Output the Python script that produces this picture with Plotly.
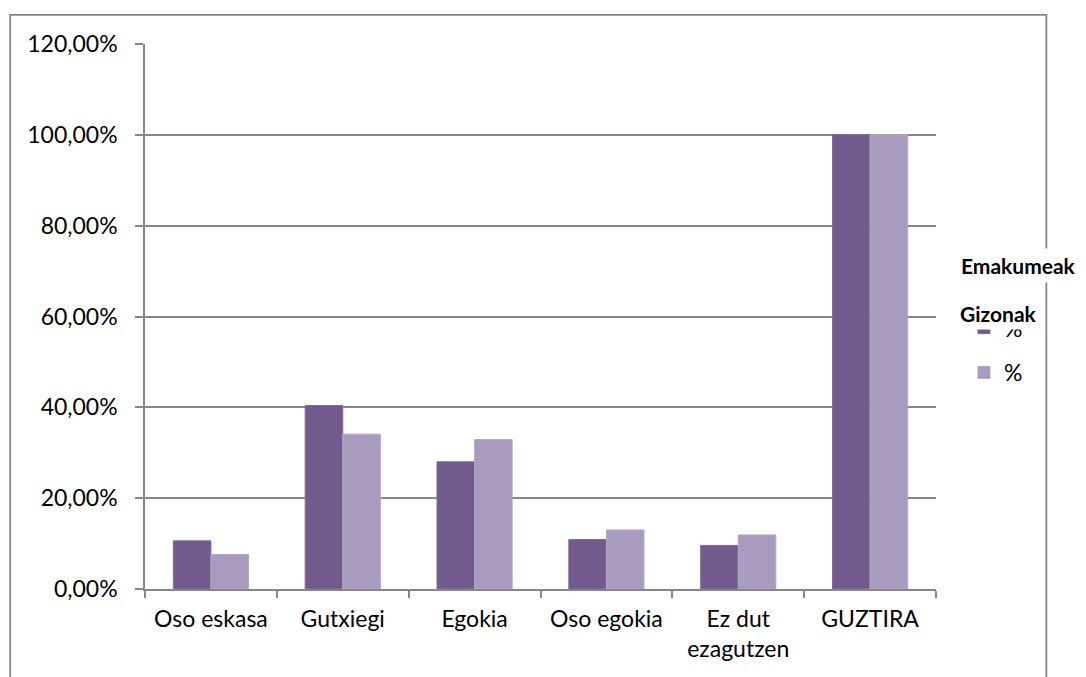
import plotly.graph_objects as go

categories = ["Oso eskasa", "Gutxiegi", "Egokia", "Oso egokia", "Ez dut<br>ezagutzen", "GUZTIRA"]
emakumeak = [0.106, 0.404, 0.280, 0.109, 0.096, 1.000]
gizonak = [0.076, 0.341, 0.329, 0.130, 0.119, 1.000]
y_ticks = [0, 0.2, 0.4, 0.6, 0.8, 1.0, 1.2]

DARK = "#725A8F"
LIGHT = "#A99BBD"
GRID = "#878787"
FONT = "Lato"

fig = go.Figure()
fig.add_trace(go.Bar(x=categories, y=emakumeak, name="%", marker=dict(color=DARK, line=dict(color="#7d6a98", width=1)),
                     legendgroup="a"))
fig.add_trace(go.Bar(x=categories, y=gizonak, name="%", marker=dict(color=LIGHT, line=dict(color="#b3a7c5", width=1)),
                     legendgroup="b"))

OFF = 7  # page body offset
W, H = 1078, 669
# plot area in screen pixels
SX0, SX1, SY0, SY1 = 143.5, 935.5, 42.7, 588.0
L = SX0 - OFF
R = W - (SX1 - OFF)
T = SY0 - OFF
B = H - (SY1 - OFF)
pw = SX1 - SX0
ph = SY1 - SY0

def px_x(p):
    return (p - SX0) / pw

def px_y(p):
    return (SY1 - p) / ph

fig.update_layout(
    width=W, height=H,
    margin=dict(l=L, r=R, t=T, b=B),
    paper_bgcolor="white", plot_bgcolor="white",
    separators=",.",
    font=dict(family=FONT, size=23, color="#000000"),
    bargap=0.43, bargroupgap=0,
    showlegend=True,
    legend=dict(x=px_x(963.5), xanchor="left", y=px_y(305), yanchor="top",
                traceorder="grouped", tracegroupgap=12,
                font=dict(family=FONT, size=23, color="#000000"),
                bgcolor="rgba(0,0,0,0)"),
    xaxis=dict(showline=True, linecolor=GRID, linewidth=1.5, ticks="outside", tickson="boundaries",
               ticklen=7, tickcolor=GRID, tickwidth=1.5, showgrid=False,
               tickfont=dict(family=FONT, size=23), ticklabelstandoff=9),
    yaxis=dict(range=[0, 1.2], tickvals=y_ticks, tickformat=".2%", showline=True, linecolor=GRID, linewidth=1.5,
               ticks="outside", ticklen=8, tickcolor=GRID, tickwidth=1.5,
               showgrid=True, gridcolor=GRID, gridwidth=1.5, zeroline=False,
               tickfont=dict(family=FONT, size=23), ticklabelstandoff=13),
    shapes=[dict(type="rect", xref="paper", yref="paper",
                 x0=px_x(8.5), x1=px_x(1046), y0=px_y(720), y1=px_y(13.5),
                 line=dict(color=GRID, width=1.8), fillcolor="rgba(0,0,0,0)", layer="below")],
    annotations=[
        dict(text="<b>Emakumeak</b>", xref="paper", yref="paper", x=px_x(956), y=px_y(264),
             xanchor="left", yanchor="middle", showarrow=False, bgcolor="white",
             font=dict(family=FONT, size=21, color="#000000"), borderpad=4),
        dict(text="<b>Gizonak</b>", xref="paper", yref="paper", x=px_x(956), y=px_y(312),
             xanchor="left", yanchor="middle", showarrow=False, bgcolor="white",
             font=dict(family=FONT, size=21, color="#000000"), borderpad=3),
    ],
)

fig.write_html("out.html")
